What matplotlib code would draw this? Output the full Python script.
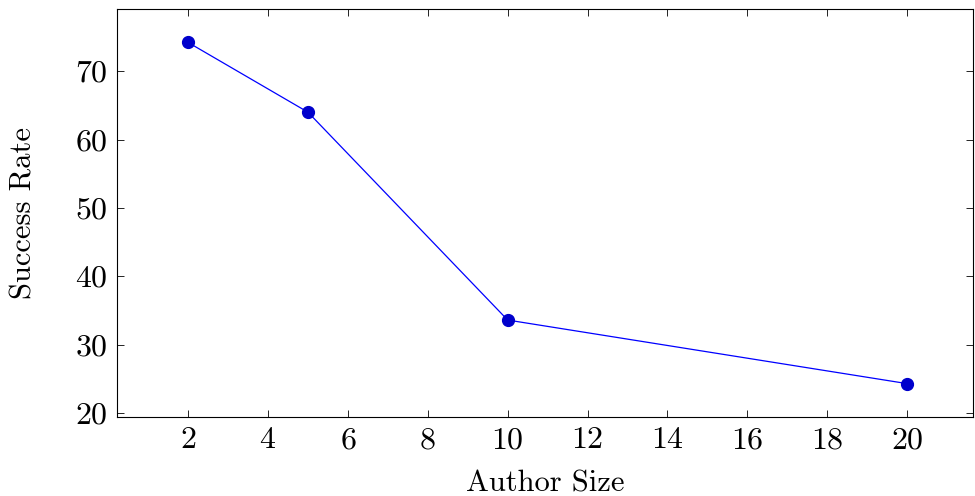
import matplotlib
matplotlib.use("Agg")
import matplotlib.pyplot as plt

# data
author_size = [2, 5, 10, 20]
success_rate = [74.2, 64.0, 33.6, 24.3]
x_ticks = [2, 4, 6, 8, 10, 12, 14, 16, 18, 20]
y_ticks = [20, 30, 40, 50, 60, 70]

plt.rcParams['font.family'] = ['cmr10', 'DejaVu Sans']
plt.rcParams['mathtext.fontset'] = 'cm'
plt.rcParams['axes.formatter.use_mathtext'] = True

fig = plt.figure(figsize=(9.75, 4.96), dpi=100)
ax = fig.add_axes([0.12, 0.159, 0.878, 0.823])

ax.plot(author_size, success_rate, color=(0, 0, 1), linewidth=0.9,
        marker='o', markersize=8.5, markerfacecolor=(0, 0, 0.8),
        markeredgecolor=(0, 0, 0.8))

ax.set_xlim(0.22, 21.65)
ax.set_ylim(19.4, 79.1)
ax.set_xticks(x_ticks)
ax.set_yticks(y_ticks)
ax.tick_params(direction='in', length=5, width=0.6, top=True, right=True,
               labelsize=23, pad=7)
for s in ax.spines.values():
    s.set_linewidth(0.8)

ax.set_xlabel('Author Size', fontsize=22, labelpad=11)
ax.set_ylabel('Success Rate', fontsize=22, labelpad=27)

fig.savefig('out.png', dpi=100)
